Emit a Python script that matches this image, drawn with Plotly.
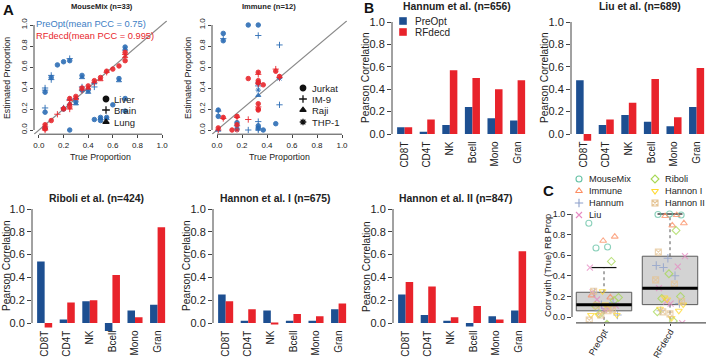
import numpy as np
import plotly.graph_objects as go

# ---------------- data ----------------
cell_types = ["CD8T", "CD4T", "NK", "Bcell", "Mono", "Gran"]
hannum_preopt = [0.06, 0.02, 0.08, 0.24, 0.14, 0.12]
hannum_rfdecd = [0.06, 0.13, 0.57, 0.50, 0.40, 0.48]
liu_preopt = [0.48, 0.08, 0.17, 0.11, 0.07, 0.24]
liu_rfdecd = [-0.06, 0.13, 0.28, 0.49, 0.15, 0.59]
riboli_preopt = [0.54, 0.03, 0.19, -0.07, 0.11, 0.16]
riboli_rfdecd = [-0.04, 0.18, 0.20, 0.42, 0.05, 0.84]
hannon1_preopt = [0.25, 0.02, 0.11, 0.02, 0.02, 0.12]
hannon1_rfdecd = [0.19, 0.12, -0.01, 0.08, 0.06, 0.17]
hannon2_preopt = [0.25, 0.07, 0.02, -0.03, 0.06, 0.11]
hannon2_rfdecd = [0.36, 0.32, 0.05, 0.15, 0.03, 0.63]

mousemix_tissues = ["Liver", "Brain", "Lung"]
mousemix_pcc_preopt = [0.91, 0.68, 0.67]
mousemix_pcc_rfdecd = [0.99, 1.00, 0.995]
immune_cells = ["Jurkat", "IM-9", "Raji", "THP-1"]
immune_pcc_preopt = [0.78, 0.74, 0.21, 0.19]
immune_pcc_rfdecd = [0.99, 0.98, 0.91, 0.89]

# MouseMix scatter (true, estimated, tissue code L=Liver B=Brain U=Lung)
mm_pre_true = [0.05, 0.05, 0.05, 0.05, 0.05, 0.05, 0.10, 0.10, 0.10, 0.15, 0.20, 0.20, 0.20,
               0.25, 0.25, 0.25, 0.25, 0.25, 0.30, 0.30, 0.30, 0.35, 0.35, 0.35, 0.35, 0.40, 0.40,
               0.45, 0.45, 0.45, 0.50, 0.50, 0.50, 0.55, 0.55, 0.60, 0.65, 0.65, 0.70, 0.70, 0.70, 0.70]
mm_pre_est = [0.40, 0.38, 0.36, 0.21, 0.17, 0.02, 0.52, 0.50, 0.48, 0.62, 0.65, 0.21, 0.20,
              0.68, 0.66, 0.00, 0.29, 0.25, 0.27, 0.25, 0.30, 0.52, 0.50, 0.41, 0.38, 0.38, 0.36,
              0.41, 0.10, 0.45, 0.12, 0.11, 0.09, 0.12, 0.11, 0.24, 0.49, 0.47, 0.79, 0.77, 0.30, 0.18]
mm_pre_tissue = ["B", "B", "L", "B", "L", "L", "B", "L", "B", "L", "L", "B", "L",
                 "B", "L", "L", "B", "U", "L", "U", "B", "L", "U", "B", "L", "L", "U",
                 "B", "L", "U", "L", "U", "L", "L", "U", "L", "L", "U", "L", "U", "L", "L"]
mm_rf_true = [0.05, 0.05, 0.05, 0.05, 0.05, 0.10, 0.15, 0.20, 0.20, 0.25, 0.25, 0.25, 0.25, 0.25,
              0.30, 0.30, 0.35, 0.35, 0.40, 0.40, 0.45, 0.45, 0.50, 0.50, 0.55, 0.55, 0.60, 0.65,
              0.70, 0.70, 0.70, 0.70]
mm_rf_est = [0.05, 0.03, 0.02, 0.01, 0.00, 0.09, 0.15, 0.20, 0.21, 0.30, 0.28, 0.25, 0.22, 0.20,
             0.32, 0.30, 0.40, 0.38, 0.42, 0.40, 0.47, 0.45, 0.50, 0.48, 0.56, 0.55, 0.58, 0.61,
             0.74, 0.72, 0.70, 0.66]
mm_rf_tissue = ["L", "B", "U", "L", "B", "L", "B", "L", "U", "L", "B", "U", "L", "B",
                "L", "U", "L", "B", "L", "U", "L", "B", "L", "U", "L", "B", "L", "L",
                "L", "B", "U", "L"]

# Immune scatter (J=Jurkat I=IM-9 R=Raji T=THP-1)
im_pre_true = [0.01, 0.01, 0.01, 0.01, 0.05, 0.05, 0.05, 0.16, 0.16, 0.16, 0.25, 0.25,
               0.33, 0.33, 0.33, 0.33, 0.33, 0.33, 0.33, 0.33, 0.33, 0.33, 0.33, 0.37, 0.47,
               0.50, 0.50, 0.50]
im_pre_est = [0.19, 0.18, 0.13, 0.00, 0.92, 0.87, 0.85, 0.07, 0.04, 0.01, 1.00, 0.00,
              1.00, 0.90, 0.45, 0.42, 0.38, 0.33, 0.08, 0.04, 0.02, 0.01, 0.00, 0.00, 0.06,
              0.81, 0.49, 0.24]
im_pre_cell = ["J", "I", "J", "R", "J", "I", "J", "J", "I", "J", "J", "I",
               "J", "I", "J", "I", "T", "R", "I", "J", "J", "T", "I", "J", "J",
               "I", "T", "I"]
im_rf_true = [0.01, 0.01, 0.05, 0.05, 0.12, 0.16, 0.16, 0.16, 0.16, 0.25, 0.25, 0.33, 0.33,
              0.33, 0.33, 0.33, 0.33, 0.33, 0.33, 0.33, 0.37, 0.47, 0.47, 0.50, 0.50]
im_rf_est = [0.02, 0.00, 0.12, 0.11, 0.00, 0.13, 0.12, 0.05, 0.00, 0.49, 0.10, 0.55, 0.53,
             0.47, 0.45, 0.44, 0.25, 0.22, 0.20, 0.19, 0.43, 0.58, 0.56, 0.51, 0.50]
im_rf_cell = ["J", "I", "J", "I", "J", "J", "I", "J", "T", "J", "I", "J", "I",
              "J", "J", "I", "J", "I", "J", "J", "J", "I", "J", "J", "I"]

tick_vals_01 = [0.0, 0.2, 0.4, 0.6, 0.8, 1.0]
tick_text_01 = ["0.0", "0.2", "0.4", "0.6", "0.8", "1.0"]

# ---------------- style ----------------
W, H = 708, 360
FONT = "Liberation Sans, Arial, Helvetica, sans-serif"
INK = "#222222"
AXC = "#444444"
BLUE_BAR = "#1D4F91"
RED_BAR = "#E8232B"
BLUE_PT = "#2C6DB5"
RED_PT = "#E8262C"
SET2 = ["#66C2A5", "#FC8D62", "#8DA0CB", "#E78AC3", "#A6D854", "#FFD92F", "#E5C494"]
C_SYMBOLS = ["circle-open", "triangle-up-open", "cross-thin-open", "x-thin-open",
             "diamond-open", "triangle-down-open", "square-x-open"]
MM_SYM = {"L": "circle", "B": "cross-thin-open", "U": "triangle-up"}
IM_SYM = {"J": "circle", "I": "cross-thin-open", "R": "triangle-up", "T": "asterisk-open"}

fig = go.Figure()
annotations = []
shapes = []
layout_axes = {}


def text(x, y, s, size, color=INK, bold=False, xanchor="center", yanchor="middle", angle=0):
    annotations.append(dict(
        x=x / W, y=1 - y / H, xref="paper", yref="paper",
        text=f"<b>{s}</b>" if bold else s, showarrow=False,
        font=dict(size=size, color=color, family=FONT),
        xanchor=xanchor, yanchor=yanchor, textangle=angle, borderpad=0))


def axname(n):
    return "" if n == 1 else str(n)


def add_axes(n, xd, yd, xr, yr, xkw, ykw):
    s = axname(n)
    base = dict(showgrid=False, zeroline=False, showline=False, automargin=False,
                fixedrange=True, tickcolor=AXC, tickfont=dict(family=FONT, color=INK))
    xa = dict(base, domain=[xd[0] / W, xd[1] / W], range=xr, anchor="y" + s)
    xa.update(xkw)
    ya = dict(base, domain=[1 - yd[1] / H, 1 - yd[0] / H], range=yr, anchor="x" + s)
    ya.update(ykw)
    layout_axes["xaxis" + s] = xa
    layout_axes["yaxis" + s] = ya


def line(xref, yref, x0, x1, y0, y1, color=AXC, width=1, dash="solid", layer="above"):
    shapes.append(dict(type="line", xref=xref, yref=yref, x0=x0, x1=x1, y0=y0, y1=y1,
                       line=dict(color=color, width=width, dash=dash), layer=layer))


# ---------------- Panel A: scatter ----------------
scatter_panels = [
    dict(n=1, title="MouseMix (n=33)", xd=(34, 167), tx=102,
         pre=(mm_pre_true, mm_pre_est, mm_pre_tissue), rf=(mm_rf_true, mm_rf_est, mm_rf_tissue),
         sym=MM_SYM, ytitle_x=7),
    dict(n=2, title="Immune (n=12)", xd=(212, 347), tx=269,
         pre=(im_pre_true, im_pre_est, im_pre_cell), rf=(im_rf_true, im_rf_est, im_rf_cell),
         sym=IM_SYM, ytitle_x=188),
]
A_YD = (20.8, 134.2)
for p in scatter_panels:
    n = p["n"]
    s = axname(n)
    add_axes(n, p["xd"], A_YD, [-0.04, 1.04], [-0.04, 1.04],
             dict(tickvals=tick_vals_01, ticktext=tick_text_01, ticks="outside", ticklen=3,
                  tickfont=dict(size=8, family=FONT, color=INK)),
             dict(tickvals=tick_vals_01, ticktext=tick_text_01, ticks="outside", ticklen=3,
                  tickangle=-90, tickfont=dict(size=8, family=FONT, color=INK)))
    line("x" + s, "y" + s, -0.04, 1.04, -0.04, 1.04, color="#8A8A8A", width=1.2, layer="below")
    line("x" + s, f"y{s} domain", 0, 1, 0, 0)
    line(f"x{s} domain", "y" + s, 0, 0, 0, 1)
    for (xs, ys, cs), col in ((p["pre"], BLUE_PT), (p["rf"], RED_PT)):
        fig.add_trace(go.Scatter(
            x=xs, y=ys, mode="markers", xaxis="x" + s, yaxis="y" + s, showlegend=False,
            marker=dict(symbol=[p["sym"][c] for c in cs], size=4.5, color=col, opacity=0.9,
                        line=dict(color=col, width=1))))
    cx = (p["xd"][0] + p["xd"][1]) / 2
    text(p["tx"], 6, p["title"], 7.6, bold=True)
    text(cx, 157, "True Proportion", 8.8)
    text(p["ytitle_x"], 78, "Estimated Proportion", 8.8, angle=-90)

mean_pre = np.mean(mousemix_pcc_preopt)
mean_rf = np.mean(mousemix_pcc_rfdecd)
text(35, 24, f"PreOpt(mean PCC = {mean_pre:.2f})", 9.3, color="#3C7DC4", xanchor="left")
text(35, 36, f"RFdecd(mean PCC = {round(mean_rf, 3):g})", 9.3, color=RED_PT, xanchor="left")

# ---------------- Panel B: bars ----------------
bar_panels = [
    dict(n=3, title="Hannum et al. (n=656)", pre=hannum_preopt, rf=hannum_rfdecd, ax=392, p1=22, p0=134, tx=457, ty=6),
    dict(n=4, title="Liu et al. (n=689)", pre=liu_preopt, rf=liu_rfdecd, ax=571, p1=22, p0=134, tx=640, ty=6),
    dict(n=5, title="Riboli et al. (n=424)", pre=riboli_preopt, rf=riboli_rfdecd, ax=32, p1=209, p0=323, tx=97, ty=198),
    dict(n=6, title="Hannon et al. I (n=675)", pre=hannon1_preopt, rf=hannon1_rfdecd, ax=213, p1=209, p0=323, tx=275, ty=198),
    dict(n=7, title="Hannon et al. II (n=847)", pre=hannon2_preopt, rf=hannon2_rfdecd, ax=393, p1=209, p0=323, tx=455, ty=198),
]
PX_PER_UNIT = 7.53
group_centers = [2 + 3 * i for i in range(len(cell_types))]
for p in bar_panels:
    n = p["n"]
    s = axname(n)
    # R-like plot region is [-0.04, 1.04]; negative bars are allowed to spill below it
    lo = min(-0.04, min(p["pre"] + p["rf"]) - 0.005)
    yr = [lo, 1.04]
    sc = p["p0"] - p["p1"]
    top = p["p1"] - 0.04 * sc
    bot = p["p0"] - lo * sc
    region_bottom = p["p0"] + 0.04 * sc
    left = p["ax"]
    right = min(W, left + 18.36 * PX_PER_UNIT)
    xr = [0.32, 0.32 + (right - left) / PX_PER_UNIT]
    add_axes(n, (left, right), (top, bot), xr, yr,
             dict(tickvals=group_centers, ticktext=cell_types, tickangle=-90, ticks="",
                  anchor="free", position=1 - region_bottom / H,
                  tickfont=dict(size=10, family=FONT, color=INK)),
             dict(tickvals=tick_vals_01, ticktext=tick_text_01, ticks="outside", ticklen=4,
                  tickfont=dict(size=11, family=FONT, color=INK)))
    line(f"x{s} domain", "y" + s, 0, 0, 0, 1)
    fig.add_trace(go.Bar(x=[c - 0.5 for c in group_centers], y=p["pre"], width=1,
                         marker=dict(color=BLUE_BAR, line=dict(width=0)),
                         xaxis="x" + s, yaxis="y" + s, showlegend=False))
    fig.add_trace(go.Bar(x=[c + 0.5 for c in group_centers], y=p["rf"], width=1,
                         marker=dict(color=RED_BAR, line=dict(width=0)),
                         xaxis="x" + s, yaxis="y" + s, showlegend=False))
    text(p["tx"], p["ty"], p["title"], 10.4, bold=True)
    text(max(6, left - 27), (p["p0"] + p["p1"]) / 2, "Pearson Correlation", 10.2, angle=-90)

# ---------------- Panel C: box + jitter ----------------
c_names = ["MouseMix", "Immune", "Hannum", "Liu", "Riboli", "Hannon I", "Hannon II"]
c_pre = [mousemix_pcc_preopt, immune_pcc_preopt, hannum_preopt, liu_preopt,
         riboli_preopt, hannon1_preopt, hannon2_preopt]
c_rf = [mousemix_pcc_rfdecd, immune_pcc_rfdecd, hannum_rfdecd, liu_rfdecd,
        riboli_rfdecd, hannon1_rfdecd, hannon2_rfdecd]
methods = ["PreOpt", "RFdecd"]

CX = (572, 706)
C_SC = 103.0
c_yr = [-0.058, 1.04]
c_top = 214 - 0.04 * C_SC
c_bot = 317 + 0.058 * C_SC
c_xr = [1 - (604 - CX[0]) / 66.0, 2 + (CX[1] - 670) / 66.0]
add_axes(8, CX, (c_top, c_bot), c_xr, c_yr,
         dict(tickvals=[1, 2], ticktext=methods, tickangle=-60, ticks="outside", ticklen=2,
              ticklabelstandoff=-3,
              tickfont=dict(size=9, family=FONT, color=INK)),
         dict(tickvals=tick_vals_01, ticktext=tick_text_01, ticks="outside", ticklen=4,
              tickfont=dict(size=9, family=FONT, color=INK)))
line("x8 domain", "y8", 0, 0, 0, 1)
line("x8 domain", "y8 domain", 0.03, 1, 0, 0, color="#555555", width=1.2)


def fivenum(v):
    x = np.sort(np.asarray(v, dtype=float))
    n = len(x)
    n4 = np.floor((n + 3) / 2) / 2
    d = [1, n4, (n + 1) / 2, n + 1 - n4, n]
    return [0.5 * (x[int(np.floor(di)) - 1] + x[int(np.ceil(di)) - 1]) for di in d]


HW = 0.42
for k, groups in enumerate([c_pre, c_rf]):
    xc = k + 1
    vals = np.concatenate([np.asarray(g, float) for g in groups])
    _, q1, med, q3, _ = fivenum(vals)
    iqr = q3 - q1
    up = vals[vals <= q3 + 1.5 * iqr].max()
    low = vals[vals >= q1 - 1.5 * iqr].min()
    low_vis = max(low, c_yr[0])
    shapes.append(dict(type="rect", xref="x8", yref="y8", x0=xc - HW, x1=xc + HW, y0=q1, y1=q3,
                       fillcolor="#D3D3D3", line=dict(color="#5A5A5A", width=1), layer="below"))
    line("x8", "y8", xc, xc, q3, up, color="#555555", width=1, dash="dot", layer="below")
    line("x8", "y8", xc, xc, q1, low_vis, color="#555555", width=1, dash="dot", layer="below")
    line("x8", "y8", xc - HW * 0.45, xc + HW * 0.45, up, up, color="#111111", width=1.2, layer="below")
    if low >= c_yr[0]:
        line("x8", "y8", xc - HW * 0.45, xc + HW * 0.45, low, low, color="#111111", width=1.2, layer="below")
    line("x8", "y8", xc - HW, xc + HW, med, med, color="#000000", width=3)

idx = 0
for k, groups in enumerate([c_pre, c_rf]):
    for d, g in enumerate(groups):
        jit = [((((idx + i) * 0.618034) % 1.0) - 0.5) * 0.46 for i in range(len(g))]
        idx += len(g)
        fig.add_trace(go.Scatter(
            x=[k + 1 + j for j in jit], y=g, mode="markers", xaxis="x8", yaxis="y8",
            showlegend=False, opacity=0.75,
            marker=dict(symbol=C_SYMBOLS[d], size=6, color=SET2[d],
                        line=dict(color=SET2[d], width=1.1))))

text(547, 266, "Corr with (True) RB Prop", 9.4, angle=-90)

# ---------------- overlay (legends, panel letters) ----------------
layout_axes["xaxis9"] = dict(domain=[0, 1], range=[0, W], visible=False, fixedrange=True, anchor="y9")
layout_axes["yaxis9"] = dict(domain=[0, 1], range=[H, 0], visible=False, fixedrange=True, anchor="x9")


def legend_marker(x, y, symbol, color, size, lw=1.2):
    fig.add_trace(go.Scatter(x=[x], y=[y], mode="markers", xaxis="x9", yaxis="y9",
                             showlegend=False, hoverinfo="skip",
                             marker=dict(symbol=symbol, size=size, color=color,
                                         line=dict(color=color, width=lw))))


# A legends
for i, (name, code) in enumerate(zip(mousemix_tissues, ["L", "B", "U"])):
    yy = [99, 110, 122][i]
    legend_marker(106, yy, MM_SYM[code], "#111111", 5.5, 1.3)
    text(113, yy, name, 9.5, xanchor="left")
for i, (name, code) in enumerate(zip(immune_cells, ["J", "I", "R", "T"])):
    yy = [88, 99, 110, 122][i]
    legend_marker(303, yy, IM_SYM[code], "#111111", 5.5, 1.3)
    text(311, yy, name, 9.5, xanchor="left")

# B legend
for name, col, yy in ((methods[0], BLUE_BAR, 21), (methods[1], RED_BAR, 32)):
    legend_marker(403, yy, "square", col, 7, 0.6)
    text(414, yy, name, 10, xanchor="left")

# C legend
c_leg_pos = [(579, 179), (579, 191), (579, 203), (579, 215), (655, 179), (655, 191), (655, 203)]
for d, name in enumerate(c_names):
    lx, ly = c_leg_pos[d]
    legend_marker(lx, ly, C_SYMBOLS[d], SET2[d], 6, 1.1)
    text(lx + 9, ly, name, 9.2, xanchor="left")

text(8, 9, "A", 15, color="#111111", bold=True)
text(369, 8, "B", 14, color="#111111", bold=True)
text(548, 190, "C", 15, color="#111111", bold=True)

fig.update_layout(
    width=W, height=H, margin=dict(l=0, r=0, t=0, b=0),
    paper_bgcolor="white", plot_bgcolor="rgba(0,0,0,0)",
    template="none", showlegend=False, barmode="overlay",
    font=dict(family=FONT, color=INK),
    annotations=annotations, shapes=shapes, **layout_axes)

fig.write_html("out.html")
